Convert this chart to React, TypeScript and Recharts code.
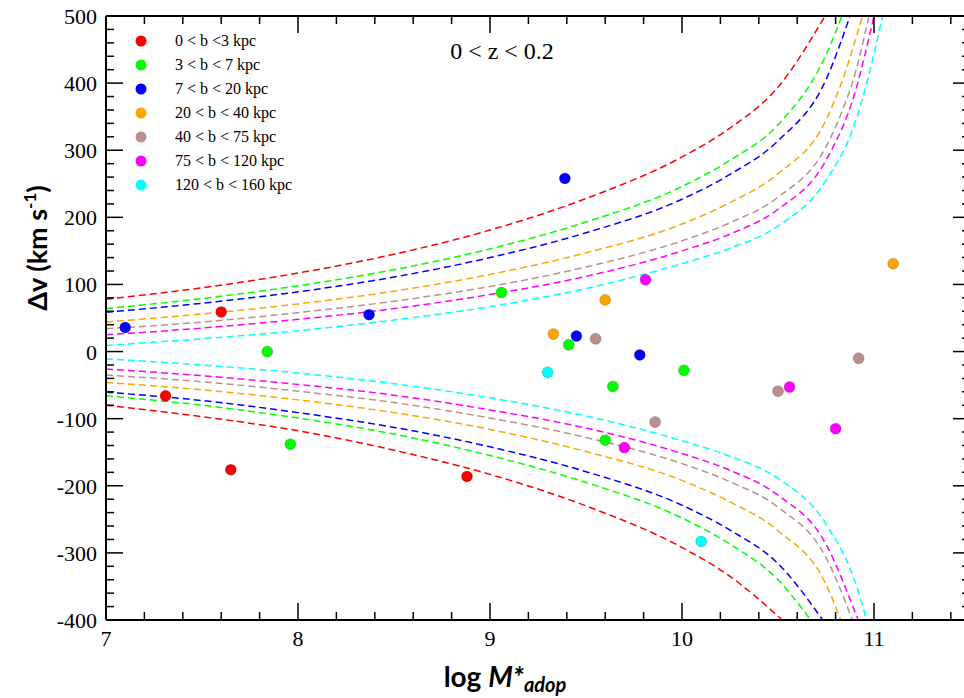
import React from 'react';
import { ComposedChart, Line, Scatter, XAxis, YAxis } from 'recharts';

type Pt = [number, number];

// dashed envelopes, [log M*, dv]
const upperRed: Pt[] = [[7, 78], [7.5, 95], [8, 117], [8.5, 145], [9, 181], [9.5, 228], [10, 290], [10.25, 333], [10.5, 394], [10.745, 500]];
const lowerRed: Pt[] = [[7, -80], [7.5, -97], [8, -118], [8.5, -147], [9, -183], [9.5, -230], [10, -292], [10.25, -335], [10.522, -400]];
const upperGreen: Pt[] = [[7, 64], [7.5, 79], [8, 98], [8.5, 122], [9, 153], [9.5, 193], [10, 246], [10.25, 285], [10.5, 338], [10.75, 442], [10.833, 500]];
const lowerGreen: Pt[] = [[7, -66], [7.5, -80], [8, -99], [8.5, -123], [9, -155], [9.5, -195], [10, -248], [10.25, -287], [10.5, -340], [10.67, -400]];
const upperBlue: Pt[] = [[7, 58.5], [7.5, 72], [8, 89], [8.5, 111], [9, 140], [9.5, 177], [10, 227], [10.25, 264], [10.5, 314], [10.75, 405], [10.875, 500]];
const lowerBlue: Pt[] = [[7, -60.5], [7.5, -73], [8, -91], [8.5, -113], [9, -142], [9.5, -179], [10, -229], [10.25, -266], [10.5, -316], [10.733, -400]];
const upperOrange: Pt[] = [[7, 44], [7.5, 56], [8, 71], [8.5, 90], [9, 115], [9.5, 147], [10, 190], [10.25, 222], [10.5, 265], [10.75, 345], [10.83, 400], [10.94, 500]];
const lowerOrange: Pt[] = [[7, -46], [7.5, -57], [8, -72], [8.5, -91], [9, -116], [9.5, -149], [10, -192], [10.25, -224], [10.5, -267], [10.75, -347], [10.827, -400]];
const upperBrown: Pt[] = [[7, 34], [7.5, 44], [8, 58], [8.5, 75], [9, 97], [9.5, 126], [10, 165], [10.25, 192], [10.5, 230], [10.75, 305], [10.85, 370], [10.887, 400], [10.974, 500]];
const lowerBrown: Pt[] = [[7, -35], [7.5, -45], [8, -59], [8.5, -76], [9, -99], [9.5, -128], [10, -167], [10.25, -194], [10.5, -232], [10.75, -307], [10.85, -372], [10.887, -400]];
const upperMagenta: Pt[] = [[7, 25], [7.5, 35], [8, 48], [8.5, 64], [9, 85], [9.5, 112], [10, 150], [10.25, 175], [10.5, 212], [10.75, 285], [10.9, 385], [11.0, 500]];
const lowerMagenta: Pt[] = [[7, -26], [7.5, -36], [8, -49], [8.5, -65], [9, -87], [9.5, -114], [10, -152], [10.25, -177], [10.5, -214], [10.75, -287], [10.9, -387], [10.918, -400]];
const upperCyan: Pt[] = [[7, 9], [7.5, 19], [8, 31], [8.5, 47], [9, 67], [9.5, 94], [10, 131], [10.25, 154], [10.5, 187], [10.75, 255], [10.9, 340], [10.962, 400], [11.045, 500]];
const lowerCyan: Pt[] = [[7, -11], [7.5, -20], [8, -32], [8.5, -48], [9, -69], [9.5, -96], [10, -133], [10.25, -156], [10.5, -189], [10.75, -257], [10.9, -342], [10.962, -400]];

// absorbers, one list per impact-parameter bin
const redDots: Pt[] = [[7.31, -66], [7.6, 59], [7.65, -176], [8.88, -186]];
const greenDots: Pt[] = [[7.84, 0], [7.96, -138], [9.06, 88], [9.41, 10], [9.64, -52], [10.01, -28], [9.6, -132]];
const blueDots: Pt[] = [[7.1, 36], [8.37, 55], [9.39, 258], [9.45, 23], [9.78, -5]];
const orangeDots: Pt[] = [[9.33, 26], [9.6, 77], [11.1, 131]];
const brownDots: Pt[] = [[9.55, 19], [9.86, -105], [10.5, -59], [10.92, -10]];
const magentaDots: Pt[] = [[9.81, 107], [9.7, -143], [10.56, -53], [10.8, -115]];
const cyanDots: Pt[] = [[9.3, -31], [10.1, -283]];

const binLabels = ['0 < b <3 kpc', '3 < b < 7 kpc', '7 < b < 20 kpc', '20 < b < 40 kpc', '40 < b < 75 kpc', '75 < b < 120 kpc', '120 < b < 160 kpc'];
const binColors = ['#ff0000', '#00ff00', '#0000ff', '#ffa500', '#bc8f8f', '#ff00ff', '#00ffff'];

const xMajor = [7, 8, 9, 10, 11];
const yMajor = [-400, -300, -200, -100, 0, 100, 200, 300, 400, 500];

const xTicks: number[] = [];
for (let i = 0; i <= 22; i++) xTicks.push(Math.round((7 + i * 0.2) * 10) / 10);
const yTicks: number[] = [];
for (let i = 0; i <= 45; i++) yTicks.push(-400 + i * 20);

const rows = (pts: Pt[]) => pts.map(([x, v]) => ({ x, v }));

const curves = [
  { color: binColors[0], upper: upperRed, lower: lowerRed },
  { color: binColors[1], upper: upperGreen, lower: lowerGreen },
  { color: binColors[2], upper: upperBlue, lower: lowerBlue },
  { color: binColors[3], upper: upperOrange, lower: lowerOrange },
  { color: binColors[4], upper: upperBrown, lower: lowerBrown },
  { color: binColors[5], upper: upperMagenta, lower: lowerMagenta },
  { color: binColors[6], upper: upperCyan, lower: lowerCyan },
];
const dots = [redDots, greenDots, blueDots, orangeDots, brownDots, magentaDots, cyanDots];

const serif = '"Liberation Serif", "Times New Roman", serif';
const sans = 'Lato, "Open Sans", sans-serif';
const serifStyle = { fontFamily: serif };

const isMajor = (list: number[], v: number) => list.some((m) => Math.abs(m - v) < 1e-6);

const BottomTick = (p: any) => {
  const major = isMajor(xMajor, p.payload.value);
  return (
    <g>
      <line x1={p.x} x2={p.x} y1={p.y} y2={p.y - (major ? 17 : 8)} stroke="#000" strokeWidth={1.5} />
      {major && (
        <text x={p.x} y={p.y + 26} textAnchor="middle" style={serifStyle} fontSize={22} fill="#000">
          {p.payload.value}
        </text>
      )}
    </g>
  );
};

const TopTick = (p: any) => {
  const major = isMajor(xMajor, p.payload.value);
  return <line x1={p.x} x2={p.x} y1={p.y} y2={p.y + (major ? 17 : 8)} stroke="#000" strokeWidth={1.5} />;
};

const LeftTick = (p: any) => {
  const major = isMajor(yMajor, p.payload.value);
  return (
    <g>
      <line x1={p.x} x2={p.x + (major ? 17 : 8)} y1={p.y} y2={p.y} stroke="#000" strokeWidth={1.5} />
      {major && (
        <text x={p.x - 9} y={p.y + 8} textAnchor="end" style={serifStyle} fontSize={22} fill="#000">
          {p.payload.value}
        </text>
      )}
    </g>
  );
};

const RightTick = (p: any) => {
  const major = isMajor(yMajor, p.payload.value);
  return <line x1={p.x} x2={p.x - (major ? 17 : 8)} y1={p.y} y2={p.y} stroke="#000" strokeWidth={1.5} />;
};

const axisLine = { stroke: '#000', strokeWidth: 2 };

export default function App() {
  return (
    <div style={{ position: 'fixed', left: 0, top: 0, width: 964, height: 698, overflow: 'hidden', background: '#fff' }}>
      <ComposedChart width={1010} height={698} margin={{ top: 0, right: 32, bottom: 0, left: 0 }}>
        <XAxis xAxisId="b" type="number" dataKey="x" domain={[7, 11.5]} allowDataOverflow ticks={xTicks} interval={0}
          tickSize={0} tickMargin={0} tickLine={false} axisLine={axisLine} height={78} tick={(p: any) => <BottomTick {...p} />} />
        <XAxis xAxisId="t" orientation="top" type="number" dataKey="x" domain={[7, 11.5]} allowDataOverflow ticks={xTicks} interval={0}
          tickSize={0} tickMargin={0} tickLine={false} axisLine={axisLine} height={16} tick={(p: any) => <TopTick {...p} />} />
        <YAxis yAxisId="l" type="number" domain={[-400, 500]} allowDataOverflow ticks={yTicks} interval={0}
          tickSize={0} tickMargin={0} tickLine={false} axisLine={axisLine} width={106} tick={(p: any) => <LeftTick {...p} />} />
        <YAxis yAxisId="r" orientation="right" type="number" domain={[-400, 500]} allowDataOverflow ticks={yTicks} interval={0}
          tickSize={0} tickMargin={0} tickLine={false} axisLine={axisLine} width={8} tick={(p: any) => <RightTick {...p} />} />
        {curves.map((c, i) => (
          <Line key={'u' + i} xAxisId="b" yAxisId="l" data={rows(c.upper)} dataKey="v" type="monotone" stroke={c.color}
            strokeWidth={1.5} strokeDasharray="7 4" dot={false} activeDot={false} isAnimationActive={false} />
        ))}
        {curves.map((c, i) => (
          <Line key={'l' + i} xAxisId="b" yAxisId="l" data={rows(c.lower)} dataKey="v" type="monotone" stroke={c.color}
            strokeWidth={1.5} strokeDasharray="7 4" dot={false} activeDot={false} isAnimationActive={false} />
        ))}
        {dots.map((d, i) => (
          <Scatter key={'s' + i} xAxisId="b" yAxisId="l" data={rows(d)} dataKey="v" fill={binColors[i]} isAnimationActive={false}
            shape={(p: any) => <circle cx={p.cx} cy={p.cy} r={5.5} fill={binColors[i]} stroke="rgba(0,0,0,0.3)" strokeWidth={0.6} />} />
        ))}
      </ComposedChart>
      <svg width={964} height={698} style={{ position: 'absolute', left: 0, top: 0, pointerEvents: 'none' }}>
        {binLabels.map((t, i) => (
          <g key={t}>
            <circle cx={141} cy={41 + i * 24} r={5.5} fill={binColors[i]} />
            <text x={175} y={46 + i * 24} style={serifStyle} fontSize={16} fill="#000">{t}</text>
          </g>
        ))}
        <text x={502} y={59} textAnchor="middle" style={serifStyle} fontSize={24} fill="#000">0 &lt; z &lt; 0.2</text>
        <text x={505} y={687} textAnchor="middle" style={{ fontFamily: sans }} fontWeight="bold" fontSize={28} fill="#000">
          log <tspan fontStyle="italic">M*</tspan>
          <tspan fontStyle="italic" fontSize={20} dy={5}>adop</tspan>
        </text>
        <text x={47} y={248} textAnchor="middle" transform="rotate(-90 47 248)" style={{ fontFamily: sans }} fontWeight="bold" fontSize={27} fill="#000">
          Δv (km s<tspan fontSize={17} dy={-11}>-1</tspan><tspan dy={11}>)</tspan>
        </text>
      </svg>
    </div>
  );
}
